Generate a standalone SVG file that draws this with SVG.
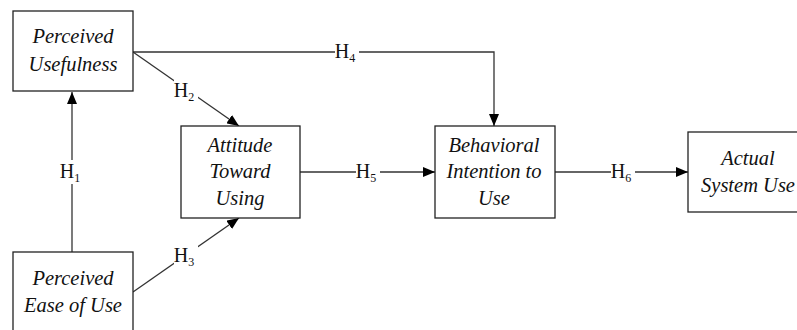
<svg xmlns="http://www.w3.org/2000/svg" width="797" height="330" viewBox="0 0 797 330">
<style>
.box{fill:#fff;stroke:#222;stroke-width:1.3}
.t{font-family:"Liberation Serif",serif;font-style:italic;font-size:20.5px;fill:#111;text-anchor:middle}
.h{font-family:"Liberation Serif",serif;font-size:20px;fill:#111;text-anchor:middle}
.c{stroke:#333;stroke-width:1.3;fill:none}
.lb{fill:#fff}
</style>
<defs>
<marker id="ah" viewBox="0 0 12 10" refX="12" refY="5" markerWidth="12" markerHeight="10" markerUnits="userSpaceOnUse" orient="auto">
<path d="M0,0 L12,5 L0,10 Z" fill="#000"/>
</marker>
</defs>
<rect width="797" height="330" fill="#fff"/>
<g id="connectors">
<line class="c" x1="72" y1="252" x2="72" y2="92" marker-end="url(#ah)"/>
<line class="c" x1="133" y1="52" x2="239" y2="126" marker-end="url(#ah)"/>
<line class="c" x1="133" y1="292" x2="239" y2="218" marker-end="url(#ah)"/>
<polyline class="c" points="133,52 494,52 494,126" marker-end="url(#ah)"/>
<line class="c" x1="300" y1="172" x2="435" y2="172" marker-end="url(#ah)"/>
<line class="c" x1="555" y1="172" x2="688" y2="172" marker-end="url(#ah)"/>
<rect class="lb" x="60" y="160" width="24" height="24"/>
<text class="h" x="70" y="178">H<tspan font-size="12" dy="4">1</tspan></text>
<rect class="lb" x="174" y="80" width="24" height="24"/>
<text class="h" x="184" y="97">H<tspan font-size="12" dy="4">2</tspan></text>
<rect class="lb" x="174" y="245" width="24" height="24"/>
<text class="h" x="184" y="262">H<tspan font-size="12" dy="4">3</tspan></text>
<rect class="lb" x="335" y="40" width="24" height="24"/>
<text class="h" x="345" y="58">H<tspan font-size="12" dy="4">4</tspan></text>
<rect class="lb" x="356" y="160" width="24" height="24"/>
<text class="h" x="366" y="178">H<tspan font-size="12" dy="4">5</tspan></text>
<rect class="lb" x="611" y="160" width="24" height="24"/>
<text class="h" x="621" y="178">H<tspan font-size="12" dy="4">6</tspan></text>
</g>
<g id="pu">
<rect class="box" x="13" y="11" width="120" height="80"/>
<text class="t" x="73" y="43">Perceived</text>
<text class="t" x="73" y="71">Usefulness</text>
</g>
<g id="peou">
<rect class="box" x="13" y="252" width="120" height="82"/>
<text class="t" x="73" y="285">Perceived</text>
<text class="t" x="73" y="312">Ease of Use</text>
</g>
<g id="atu">
<rect class="box" x="181" y="126" width="119" height="92"/>
<text class="t" x="240" y="152">Attitude</text>
<text class="t" x="240" y="178">Toward</text>
<text class="t" x="240" y="205">Using</text>
</g>
<g id="biu">
<rect class="box" x="435" y="126" width="120" height="92"/>
<text class="t" x="494" y="152">Behavioral</text>
<text class="t" x="494" y="178">Intention to</text>
<text class="t" x="494" y="205">Use</text>
</g>
<g id="asu">
<rect class="box" x="688" y="132" width="112" height="80"/>
<text class="t" x="748" y="165">Actual</text>
<text class="t" x="748" y="192">System Use</text>
</g>
</svg>
